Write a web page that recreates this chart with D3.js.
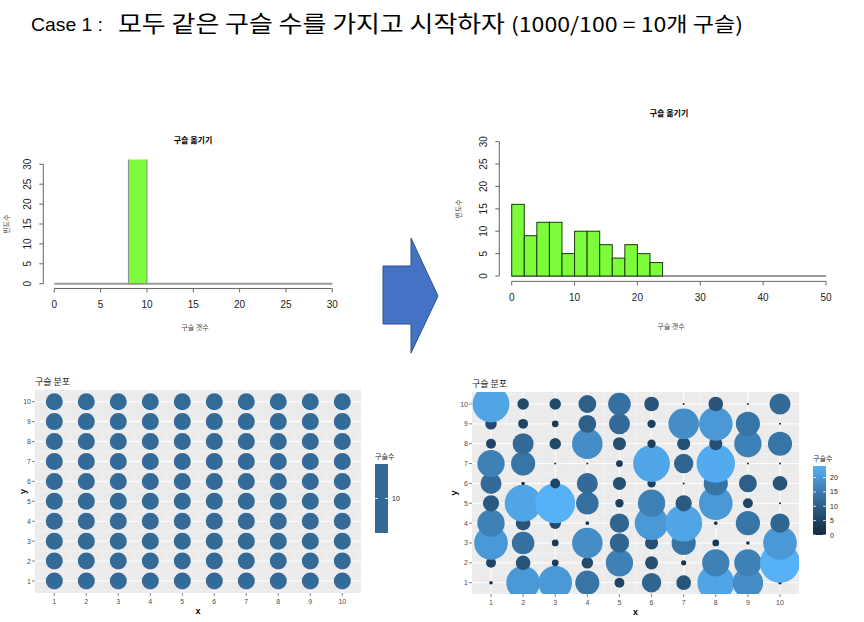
<!DOCTYPE html>
<html>
<head>
    <meta charset="utf-8">
    <title>Case 1 구슬 옮기기</title>
    <style>
        body { margin: 0; padding: 0; background: #fff; }
        svg { display: block; }
        .kr { font-family: "Noto Sans CJK KR", sans-serif; }
        .num { font-family: "Liberation Sans", Arial, sans-serif; }
    </style>
</head>
<body>
<div id="chart"></div>
<script src="https://d3js.org/d3.v7.min.js"></script>
<script>
// histogram bins (구슬 갯수, width 2)
const beforeBreaks = [0, 2, 4, 6, 8, 10, 12, 14, 16, 18, 20, 22, 24, 26, 28, 30];
const beforeCounts = [0, 0, 0, 0, 100, 0, 0, 0, 0, 0, 0, 0, 0, 0, 0];
const afterBreaks = [0, 2, 4, 6, 8, 10, 12, 14, 16, 18, 20, 22, 24, 26, 28, 30, 32, 34, 36, 38, 40, 42, 44, 46, 48, 50];
const afterCounts = [16, 9, 12, 12, 5, 10, 10, 7, 4, 7, 5, 3, 0, 0, 0, 0, 0, 0, 0, 0, 0, 0, 0, 0, 0];
const beforeXTicks = [0, 5, 10, 15, 20, 25, 30];
const afterXTicks = [0, 10, 20, 30, 40, 50];
const histYTicks = [0, 5, 10, 15, 20, 25, 30];

// 구슬 분포: grid cells, rows listed from y = 10 down to y = 1, columns x = 1..10
const gridX = [1, 2, 3, 4, 5, 6, 7, 8, 9, 10];
const gridY = [10, 9, 8, 7, 6, 5, 4, 3, 2, 1];
const beforeGrid = gridY.map(() => gridX.map(() => 10));
const afterGrid = [
    [22, 6, 6, 10, 13, 8, 0, 8, 0, 12],
    [6, 5, 3, 10, 12, 4, 18, 20, 14, 0],
    [5, 12, 6, 18, 7, 4, 7, 7, 16, 14],
    [16, 14, 0, 0, 3, 22, 11, 23, 0, 0],
    [12, 1, 5, 12, 7, 4, 0, 14, 10, 8],
    [9, 22, 24, 13, 4, 16, 9, 20, 5, 0],
    [16, 8, 6, 1, 11, 20, 22, 1, 14, 11],
    [20, 13, 3, 18, 11, 7, 14, 3, 1, 20],
    [5, 8, 3, 6, 16, 7, 2, 16, 16, 24],
    [1, 20, 20, 14, 5, 11, 8, 22, 18, 1]
];
const afterLegendTicks = [0, 5, 10, 15, 20];

const svg = d3.select('#chart').append('svg')
    .attr('width', 864)
    .attr('height', 622);
svg.append('rect').attr('width', 864).attr('height', 622).attr('fill', '#fff');

// ---- heading ----
svg.append('text').attr('class', 'num')
    .attr('x', 31).attr('y', 31)
    .attr('font-size', 19)
    .attr('textLength', 72).attr('lengthAdjust', 'spacingAndGlyphs')
    .text('Case 1 :');
svg.append('text').attr('class', 'kr')
    .attr('x', 118).attr('y', 32)
    .attr('font-size', 23)
    .attr('textLength', 387).attr('lengthAdjust', 'spacingAndGlyphs')
    .text('모두 같은 구슬 수를 가지고 시작하자');
svg.append('text').attr('class', 'kr')
    .attr('x', 511).attr('y', 32)
    .attr('font-size', 20)
    .attr('textLength', 232).attr('lengthAdjust', 'spacingAndGlyphs')
    .text('(1000/100 = 10개 구슬)');

// ---- arrow ----
svg.append('path')
    .attr('d', 'M383,266 L411,266 L411,238 L438,296 L411,353 L411,324 L383,324 Z')
    .attr('fill', '#4472C4')
    .attr('stroke', '#2F528F')
    .attr('stroke-width', 1);

// ---- base R style histogram ----
function histogram(opt) {
    const g = svg.append('g');
    const x = d3.scaleLinear().domain(opt.xDomain).range(opt.xRange);
    const y = d3.scaleLinear().domain([0, 30]).range(opt.yRange);
    const yTop = y(31.2), yBot = y(-1.2);
    const clipId = 'clip' + opt.id;
    g.append('clipPath').attr('id', clipId)
        .append('rect')
        .attr('x', opt.xRange[0] - 20).attr('y', yTop)
        .attr('width', opt.xRange[1] - opt.xRange[0] + 40).attr('height', yBot - yTop);

    const bins = opt.counts.map((c, i) => ({ x0: opt.breaks[i], x1: opt.breaks[i + 1], n: c }));
    const plot = g.append('g').attr('clip-path', `url(#${clipId})`);
    plot.append('line')
        .attr('x1', x(opt.breaks[0])).attr('x2', x(opt.breaks[opt.breaks.length - 1]))
        .attr('y1', y(0)).attr('y2', y(0))
        .attr('stroke', '#9a9a9a').attr('stroke-width', 2);
    plot.selectAll('rect.bar')
        .data(bins.filter(d => d.n > 0))
        .enter().append('rect')
        .attr('class', 'bar')
        .attr('x', d => x(d.x0))
        .attr('width', d => x(d.x1) - x(d.x0))
        .attr('y', d => y(d.n))
        .attr('height', d => y(0) - y(d.n))
        .attr('fill', '#7CFC3A')
        .attr('stroke', opt.barStroke)
        .attr('stroke-width', 1);

    // x axis
    const axX = g.append('g').attr('transform', `translate(0,${yBot})`);
    axX.append('line')
        .attr('x1', x(opt.xTicks[0])).attr('x2', x(opt.xTicks[opt.xTicks.length - 1]))
        .attr('stroke', '#666');
    axX.selectAll('line.t').data(opt.xTicks).enter().append('line')
        .attr('x1', d => x(d)).attr('x2', d => x(d))
        .attr('y1', 0).attr('y2', 4).attr('stroke', '#666');
    axX.selectAll('text').data(opt.xTicks).enter().append('text')
        .attr('class', 'num')
        .attr('x', d => x(d)).attr('y', 20)
        .attr('text-anchor', 'middle').attr('font-size', 10).attr('fill', '#222')
        .text(d => d);

    // y axis
    const xLeft = opt.yAxisX;
    const axY = g.append('g').attr('transform', `translate(${xLeft},0)`);
    axY.append('line').attr('y1', y(0)).attr('y2', y(30)).attr('stroke', '#666');
    axY.selectAll('line.t').data(histYTicks).enter().append('line')
        .attr('x1', 0).attr('x2', -4)
        .attr('y1', d => y(d)).attr('y2', d => y(d)).attr('stroke', '#666');
    axY.selectAll('text').data(histYTicks).enter().append('text')
        .attr('class', 'num')
        .attr('transform', d => `translate(-12,${y(d)}) rotate(-90)`)
        .attr('text-anchor', 'middle').attr('font-size', 10).attr('fill', '#222')
        .text(d => d);

    g.append('text').attr('class', 'kr')
        .attr('x', opt.titleX).attr('y', opt.titleY)
        .attr('text-anchor', 'middle').attr('font-size', 8).attr('font-weight', 'bold')
        .text('구슬 옮기기');
    g.append('text').attr('class', 'kr')
        .attr('x', opt.titleX + 2).attr('y', opt.xLabY)
        .attr('text-anchor', 'middle').attr('font-size', 7).attr('fill', '#444')
        .text('구슬 갯수');
    g.append('text').attr('class', 'kr')
        .attr('transform', `translate(${opt.yLabX},${(y(0) + y(30)) / 2}) rotate(-90)`)
        .attr('text-anchor', 'middle').attr('font-size', 7).attr('fill', '#444')
        .text('빈도수');
}

histogram({
    id: 'a', breaks: beforeBreaks, counts: beforeCounts, xTicks: beforeXTicks,
    xDomain: [0, 30], xRange: [54.3, 332.3], yRange: [283.7, 164.3],
    yAxisX: 43.3, titleX: 193, titleY: 143, xLabY: 330, yLabX: 9, barStroke: '#8a8a8a'
});
histogram({
    id: 'b', breaks: afterBreaks, counts: afterCounts, xTicks: afterXTicks,
    xDomain: [0, 50], xRange: [511.7, 826], yRange: [276, 141.7],
    yAxisX: 499.3, titleX: 669, titleY: 116, xLabY: 329, yLabX: 461, barStroke: '#1c3a10'
});

// ---- ggplot style bubble grid ----
const lowCol = '#132B43', highCol = '#56B1F7';

function bubbles(opt) {
    const g = svg.append('g');
    const x = d3.scaleLinear().domain([1, 10]).range(opt.xRange);
    const y = d3.scaleLinear().domain([1, 10]).range(opt.yRange);
    const p = opt.panel;

    g.append('rect')
        .attr('x', p[0]).attr('y', p[1])
        .attr('width', p[2] - p[0]).attr('height', p[3] - p[1])
        .attr('fill', '#EBEBEB');
    const minor = d3.range(0.5, 11, 1);
    g.selectAll('line.mx').data(minor).enter().append('line')
        .attr('x1', d => x(d)).attr('x2', d => x(d)).attr('y1', p[1]).attr('y2', p[3])
        .attr('stroke', '#F5F5F5').attr('stroke-width', 0.5);
    g.selectAll('line.my').data(minor).enter().append('line')
        .attr('y1', d => y(d)).attr('y2', d => y(d)).attr('x1', p[0]).attr('x2', p[2])
        .attr('stroke', '#F5F5F5').attr('stroke-width', 0.5);
    g.selectAll('line.gx').data(gridX).enter().append('line')
        .attr('x1', d => x(d)).attr('x2', d => x(d)).attr('y1', p[1]).attr('y2', p[3])
        .attr('stroke', '#fff').attr('stroke-width', 1);
    g.selectAll('line.gy').data(gridX).enter().append('line')
        .attr('y1', d => y(d)).attr('y2', d => y(d)).attr('x1', p[0]).attr('x2', p[2])
        .attr('stroke', '#fff').attr('stroke-width', 1);

    const cells = [];
    opt.grid.forEach((row, i) => row.forEach((v, j) => cells.push({ x: gridX[j], y: gridY[i], v })));
    cells.sort((a, b) => a.y - b.y || a.x - b.x);

    const clipId = 'clip' + opt.id;
    g.append('clipPath').attr('id', clipId).append('rect')
        .attr('x', p[0]).attr('y', p[1]).attr('width', p[2] - p[0]).attr('height', p[3] - p[1]);
    g.append('g').attr('clip-path', `url(#${clipId})`)
        .selectAll('circle').data(cells).enter().append('circle')
        .attr('cx', d => x(d.x)).attr('cy', d => y(d.y))
        .attr('r', d => opt.radius(d.v))
        .attr('fill', d => opt.colour(d.v));

    // axes
    g.selectAll('line.tx').data(gridX).enter().append('line')
        .attr('x1', d => x(d)).attr('x2', d => x(d)).attr('y1', p[3]).attr('y2', p[3] + 3)
        .attr('stroke', '#333').attr('stroke-width', 0.6);
    g.selectAll('text.tx').data(gridX).enter().append('text')
        .attr('class', 'num')
        .attr('x', d => x(d)).attr('y', p[3] + 11)
        .attr('text-anchor', 'middle').attr('font-size', 7).attr('fill', '#4D4D4D')
        .text(d => d);
    g.selectAll('line.ty').data(gridX).enter().append('line')
        .attr('y1', d => y(d)).attr('y2', d => y(d)).attr('x1', p[0]).attr('x2', p[0] - 3)
        .attr('stroke', '#333').attr('stroke-width', 0.6);
    g.selectAll('text.ty').data(gridX).enter().append('text')
        .attr('class', 'num')
        .attr('x', p[0] - 4).attr('y', d => y(d) + 2.5)
        .attr('text-anchor', 'end').attr('font-size', 7).attr('fill', '#4D4D4D')
        .text(d => d);
    g.append('text').attr('class', 'num')
        .attr('x', (p[0] + p[2]) / 2).attr('y', p[3] + 21)
        .attr('text-anchor', 'middle').attr('font-size', 9).attr('font-weight', 'bold')
        .text('x');
    g.append('text').attr('class', 'num')
        .attr('transform', `translate(${opt.yLabX},${(p[1] + p[3]) / 2}) rotate(-90)`)
        .attr('text-anchor', 'middle').attr('font-size', 9).attr('font-weight', 'bold')
        .text('y');
    g.append('text').attr('class', 'kr')
        .attr('x', p[0]).attr('y', p[1] - 5)
        .attr('font-size', 9).attr('fill', '#222')
        .text('구슬 분포');

    // colour bar legend
    const L = opt.legend;
    g.append('text').attr('class', 'kr')
        .attr('x', L.x).attr('y', L.y0 - 5)
        .attr('font-size', 7).attr('fill', '#222')
        .text('구슬수');
    const ly = d3.scaleLinear().domain(L.domain).range([L.y1, L.y0]);
    const gradId = 'grad' + opt.id;
    const grad = g.append('linearGradient').attr('id', gradId)
        .attr('x1', 0).attr('x2', 0).attr('y1', 1).attr('y2', 0);
    d3.range(0, 1.01, 0.1).forEach(t => {
        grad.append('stop').attr('offset', t)
            .attr('stop-color', opt.colour(L.domain[0] + t * (L.domain[1] - L.domain[0])));
    });
    g.append('rect')
        .attr('x', L.x).attr('y', L.y0).attr('width', 13).attr('height', L.y1 - L.y0)
        .attr('fill', `url(#${gradId})`);
    L.ticks.forEach(t => {
        const yy = L.single ? (L.y0 + L.y1) / 2 : ly(t);
        g.append('line').attr('x1', L.x).attr('x2', L.x + 3).attr('y1', yy).attr('y2', yy)
            .attr('stroke', '#fff').attr('stroke-width', 0.8);
        g.append('line').attr('x1', L.x + 10).attr('x2', L.x + 13).attr('y1', yy).attr('y2', yy)
            .attr('stroke', '#fff').attr('stroke-width', 0.8);
        g.append('text').attr('class', 'num')
            .attr('x', L.x + 17).attr('y', yy + 2.5)
            .attr('font-size', 7).attr('fill', '#222')
            .text(t);
    });
}

const midCol = d3.interpolateLab(lowCol, highCol)(0.5);
bubbles({
    id: 'c', grid: beforeGrid,
    xRange: [54.3, 342.3], yRange: [581, 401.7], panel: [35, 390, 361, 593],
    yLabX: 26,
    radius: () => 8.5,
    colour: () => midCol,
    legend: { x: 375, y0: 464, y1: 533, domain: [10, 10], ticks: [10], single: true }
});

const afterMax = d3.max(afterGrid.flat());
const rScale = d3.scaleLinear().domain([0, afterMax]).range([1, 20]);
const cScale = d3.scaleLinear().domain([0, afterMax]).range([lowCol, highCol]).interpolate(d3.interpolateLab);
bubbles({
    id: 'd', grid: afterGrid,
    xRange: [491, 780], yRange: [582.7, 404], panel: [472, 392, 799, 594],
    yLabX: 457,
    radius: v => rScale(v),
    colour: v => cScale(v),
    legend: { x: 813, y0: 466, y1: 535, domain: [0, afterMax], ticks: afterLegendTicks, single: false }
});
</script>
</body>
</html>
